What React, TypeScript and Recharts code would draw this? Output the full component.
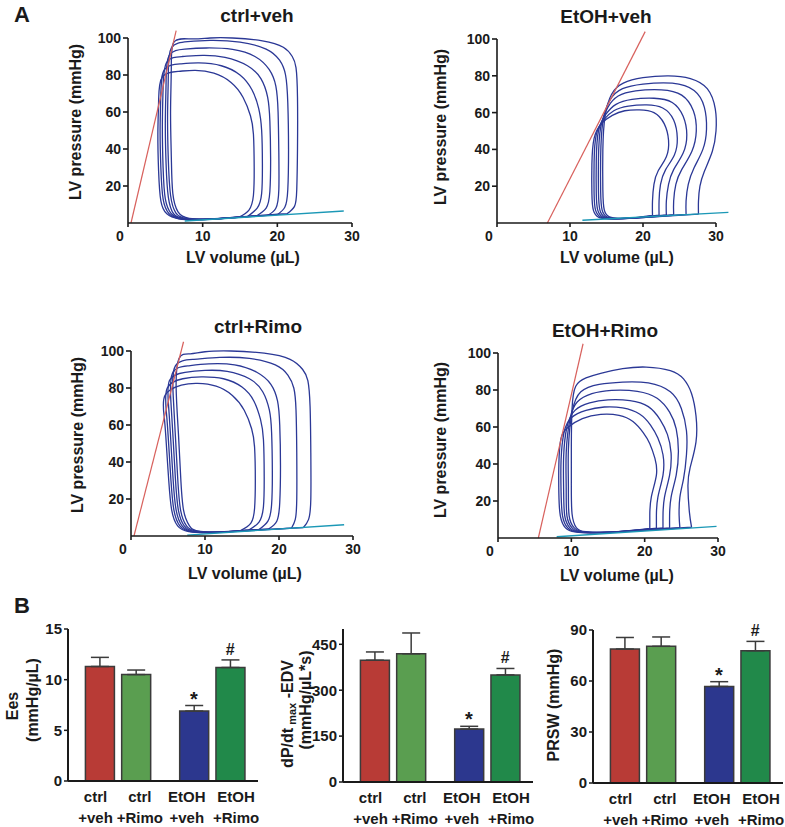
import React from "react";
import {
  LineChart,
  Line,
  XAxis,
  YAxis,
  ReferenceLine,
  ReferenceDot,
  BarChart,
  Bar,
  Cell,
  ErrorBar,
} from "recharts";

type Pt = [number, number];

const FONT = '"Liberation Sans", Arial, Helvetica, sans-serif';
const INK = "#1a1a1a";
const LOOP_COLOR = "#2b3896";
const ESPVR_COLOR = "#d8615d";
const EDPVR_COLOR = "#1b98b6";

// ---------- A: pressure-volume loops (volume µL, pressure mmHg) ----------
const volumeTicks = [0, 10, 20, 30];
const pressureTicks = [20, 40, 60, 80, 100];

const ctrlVehLoops: Pt[][] = [
  [[14.9,3.2],[16.2,7],[16.8,15],[16.9,30],[16.8,48],[16.4,58],[15.4,68],[13.8,76],[11.5,81],[9,82.5],[6.8,82],[4.6,79],[4.1,66],[4.0,48],[4.1,28],[4.4,12],[5.2,5],[6.8,2.3],[9.5,1.8],[12.5,2.4],[14.9,3.2]],
  [[16.0,3.5],[17.3,8],[17.9,16],[18.0,32],[17.9,50],[17.5,62],[16.6,72],[15,80],[12.5,85],[9.5,86.5],[7,86],[4.9,83],[4.4,70],[4.3,50],[4.4,30],[4.7,13],[5.5,5],[7,2.3],[10,1.9],[13.5,2.7],[16.0,3.5]],
  [[17.2,3.8],[18.5,8],[19.0,17],[19.1,35],[19.0,55],[18.7,68],[17.8,78],[16,85],[13,89.5],[10,90.6],[7.3,90],[5.2,87],[4.7,73],[4.6,52],[4.7,30],[5.0,13],[5.8,5],[7.3,2.3],[10.5,2],[14,3],[17.2,3.8]],
  [[18.7,4.1],[19.8,8],[20.2,18],[20.2,38],[20.1,60],[19.8,74],[18.9,83],[17,90],[14,93.8],[10.5,94.6],[7.6,94],[5.5,90.5],[5.1,76],[5.0,55],[5.1,32],[5.4,14],[6.1,5],[7.6,2.3],[11,2.1],[15,3.2],[18.7,4.1]],
  [[20.0,4.5],[21.0,8.5],[21.4,18],[21.5,40],[21.4,65],[21.1,80],[20.3,88],[18.5,94],[15,97.8],[11,98.7],[8,98],[5.8,94.5],[5.4,80],[5.3,58],[5.4,34],[5.7,15],[6.4,5.5],[7.9,2.4],[11.5,2.2],[16,3.5],[20.0,4.5]],
  [[21.3,5],[22.3,9],[22.6,18],[22.7,40],[22.7,68],[22.5,84],[22,90],[20.8,95],[18,98.5],[14,100],[11,100],[8.5,99.5],[6.2,98],[5.8,84],[5.7,60],[5.8,36],[6.0,16],[6.7,6],[8.2,2.5],[12,2.3],[17,3.8],[21.3,5]],
];
const ctrlVehEspvr: Pt[] = [[0.4, 0], [6.45, 104]];
const ctrlVehEdpvr: Pt[] = [[7.6, 1.1], [28.9, 6.5]];

const etohVehLoops: Pt[][] = [
  [[21.3,4.2],[21.3,12],[21.5,21],[22.1,28.5],[23.2,36],[23.5,45],[22.9,54],[21.5,60],[19.5,61.5],[17.5,61],[15.8,58.5],[14.3,54],[13.3,46],[13.0,32],[13.0,16],[13.2,7],[13.9,3.2],[15.3,2.3],[18,2.6],[21.3,4.2]],
  [[22.2,4.3],[22.2,12],[22.4,21],[23.1,29],[24.3,37],[24.7,46],[24.2,56],[22.7,62.5],[20.5,64.2],[18,63.5],[16,61],[14.6,56],[13.6,48],[13.3,33],[13.3,16],[13.5,7],[14.2,3.2],[15.6,2.3],[18.5,2.7],[22.2,4.3]],
  [[23.2,4.4],[23.2,12],[23.5,21],[24.2,29],[25.5,38],[26.0,48],[25.5,58],[24,65.5],[21.5,67.8],[18.5,67.2],[16.3,64.5],[14.9,59],[13.9,50],[13.6,34],[13.6,16],[13.8,7],[14.5,3.2],[16,2.3],[19,2.8],[23.2,4.4]],
  [[24.2,4.5],[24.2,12],[24.5,21],[25.3,29],[26.7,39],[27.3,50],[26.9,61],[25.3,69.5],[22.5,72.4],[19,71.8],[16.6,69],[15.2,63],[14.2,52],[13.9,35],[13.9,17],[14.1,7],[14.8,3.2],[16.3,2.4],[19.5,2.9],[24.2,4.5]],
  [[25.9,4.7],[25.9,12],[26.2,21],[27.0,30],[28.2,40],[28.7,51],[28.4,63],[27,72],[24,76],[20,75.5],[17.2,73],[15.5,67],[14.5,55],[14.2,36],[14.2,17],[14.4,7],[15.1,3.2],[16.6,2.4],[20,3],[25.9,4.7]],
  [[27.6,4.8],[27.6,12],[27.8,20],[28.4,28],[29.5,39],[30.0,50],[29.9,62],[28.8,73],[26.5,78.5],[23.5,80],[20,79],[17.3,76],[15.7,70],[14.8,58],[14.5,40],[14.5,18],[14.7,7],[15.4,3.3],[17,2.5],[21,3.2],[27.6,4.8]],
];
const etohVehEspvr: Pt[] = [[6.9, 0], [20.3, 104]];
const etohVehEdpvr: Pt[] = [[11.7, 1.5], [31.7, 5.8]];

const ctrlRimoLoops: Pt[][] = [
  [[14.8,2.9],[16.2,7],[16.7,15],[16.8,30],[16.7,48],[16.3,58],[15.3,68],[13.7,76],[11.5,81],[9,82.5],[6.8,81.5],[4.6,76],[4.5,64],[4.8,48],[5.1,30],[5.5,14],[6.3,5.5],[7.8,2.4],[10.5,1.8],[12.8,2.2],[14.8,2.9]],
  [[15.9,3.2],[17.3,7.5],[17.9,16],[18.0,32],[17.9,52],[17.5,63],[16.6,73],[15,80.5],[12.5,85],[9.5,86],[7,85],[4.9,80],[4.8,66],[5.1,49],[5.4,30],[5.8,14],[6.6,5.5],[8.1,2.4],[11,1.9],[13.5,2.5],[15.9,3.2]],
  [[17.3,3.5],[18.5,8],[19.0,17],[19.1,35],[19.0,56],[18.7,68],[17.8,78],[16,85],[13,89],[10,89.5],[7.3,88.5],[5.2,84],[5.1,69],[5.4,50],[5.7,30],[6.1,14],[6.9,5.5],[8.4,2.4],[11.5,2],[14.5,2.8],[17.3,3.5]],
  [[18.6,3.8],[19.7,8],[20.1,18],[20.2,38],[20.1,60],[19.8,73],[18.9,82],[17,88.5],[14,92.5],[10.5,93],[7.7,92],[5.6,88],[5.4,72],[5.7,52],[6.0,31],[6.4,14],[7.2,5.5],[8.7,2.4],[12,2.1],[15.5,3],[18.6,3.8]],
  [[21.7,4.3],[22.2,9],[22.4,20],[22.4,45],[22.3,68],[22.0,80],[21.2,87],[19.5,92.5],[16,96],[12,96.5],[8.5,95.5],[6.0,92],[5.7,76],[6.0,54],[6.3,32],[6.7,14],[7.5,5.5],[9,2.5],[13,2.3],[17.5,3.4],[21.7,4.3]],
  [[23.3,4.6],[24.0,9],[24.3,20],[24.3,45],[24.2,70],[23.9,84],[23.2,90],[21.5,95.5],[18,98.8],[13.5,100],[10,99.6],[8,98.5],[6.5,96],[6.1,80],[6.4,56],[6.7,33],[7.1,14],[7.9,5.5],[9.4,2.5],[14,2.5],[19,3.6],[23.3,4.6]],
];
const ctrlRimoEspvr: Pt[] = [[0.4, 0], [7.1, 105]];
const ctrlRimoEdpvr: Pt[] = [[7.6, 0.5], [28.8, 6.1]];

const etohRimoLoops: Pt[][] = [
  [[20.7,5.2],[20.7,12],[20.9,22],[21.6,34],[21.4,43],[20.7,51],[19.8,57],[18.4,63],[16.5,66.3],[14,66.8],[11.5,64.5],[9.6,60],[8.6,54],[8.3,40],[8.3,24],[8.5,12],[9.2,5.5],[10.5,3.3],[13,2.8],[16.5,3.4],[20.7,5.2]],
  [[21.6,5.3],[21.6,12],[21.8,22],[22.5,34],[22.5,45],[21.8,54],[20.8,61],[19.3,67],[17,70.3],[14.5,70.8],[12,69],[10,65],[9.0,57],[8.6,42],[8.6,25],[8.8,12],[9.5,5.5],[10.8,3.3],[13.5,2.8],[17,3.5],[21.6,5.3]],
  [[22.5,5.4],[22.5,12],[22.7,22],[23.4,34],[23.6,46],[23.1,56],[22.1,64],[20.5,71],[18,74.3],[15,74.7],[12.5,73],[10.5,69],[9.4,60],[8.95,44],[8.95,26],[9.1,12],[9.8,5.5],[11.1,3.3],[14,2.9],[17.5,3.7],[22.5,5.4]],
  [[23.4,5.5],[23.4,12],[23.6,22],[24.3,34],[24.6,47],[24.3,59],[23.4,68],[21.7,75.5],[19,79.3],[15.5,79.8],[12.8,78],[10.8,73.5],[9.8,64],[9.3,46],[9.3,27],[9.4,12],[10.1,5.5],[11.4,3.3],[14.5,3],[18,3.8],[23.4,5.5]],
  [[24.8,5.6],[24.7,12],[24.8,22],[25.3,32],[25.7,45],[25.7,58],[25.0,70],[23.5,79],[20.5,83.8],[17,84.3],[13.8,83],[11.3,79],[10.1,68],[9.6,48],[9.6,28],[9.7,12],[10.4,5.5],[11.7,3.3],[15,3.1],[19,4],[24.8,5.6]],
  [[26.4,5.8],[26.1,14],[25.9,28],[26.2,38],[27.0,52],[27.0,66],[26.4,78],[25.3,86],[23.5,90.5],[20.2,92.4],[17,91.5],[14,89],[12,86.5],[10.6,82],[10.1,70],[10.0,50],[10.0,30],[10.1,13],[10.7,5.5],[12,3.4],[15.5,3.2],[20,4.2],[26.4,5.8]],
];
const etohRimoEspvr: Pt[] = [[5.5, 0], [11.6, 105]];
const etohRimoEdpvr: Pt[] = [[8.0, 0.7], [29.8, 6.3]];

// ---------- B: bar charts ----------
const groupTop = ["ctrl", "ctrl", "EtOH", "EtOH"];
const groupBottom = ["+veh", "+Rimo", "+veh", "+Rimo"];
const sigMarks = ["", "", "*", "#"];

const eesMean = [11.3, 10.5, 6.9, 11.2];
const eesSem = [0.9, 0.45, 0.55, 0.75];
const dpdtMean = [398, 419, 173, 350];
const dpdtSem = [27, 68, 9, 21];
const prswMean = [78.8, 80.4, 56.8, 77.8];
const prswSem = [6.8, 5.5, 2.8, 5.5];

// layout: bar slots on a numeric axis (gap between the two groups), label nudges in px
const slotX = [1, 2, 3.6, 4.6];
const labelNudge = [-4, 4, -7, 6];
const barColors = ["#b83b36", "#5a9e50", "#2c378e", "#21894a"];
const markStyle: Record<string, { size: number; offset: number }> = {
  "*": { size: 20, offset: 0 },
  "#": { size: 16, offset: 5 },
};

interface Box {
  left: number;
  top: number;
  width: number;
  height: number;
}

const axisStroke = { stroke: INK, strokeWidth: 1.6 };

const VolumeTick = (props: any) => {
  const { x, y, payload } = props;
  return (
    <text
      x={payload.value === 0 ? x - 8 : x}
      y={y}
      dy={12}
      textAnchor="middle"
      fill={INK}
      fontSize={14}
      fontWeight="bold"
      fontFamily={FONT}
    >
      {payload.value}
    </text>
  );
};

const PVPanel = ({ loops, espvr, edpvr, box }: { loops: Pt[][]; espvr: Pt[]; edpvr: Pt[]; box: Box }) => {
  const ml = 50, mt = 20, mr = 30, mb = 40, yW = 40, xH = 30;
  const seg = (line: Pt[]) => line.map(([v, p]) => ({ x: v, y: p }));
  return (
    <div style={{ position: "absolute", left: box.left - ml, top: box.top - mt }}>
      <LineChart
        width={box.width + ml + mr}
        height={box.height + mt + mb}
        margin={{ top: mt, right: mr, bottom: mb - xH, left: ml - yW }}
      >
        <XAxis
          type="number"
          dataKey="v"
          domain={[0, 30]}
          ticks={volumeTicks}
          height={xH}
          tickSize={4}
          tickMargin={2}
          tick={<VolumeTick />}
          axisLine={axisStroke}
          tickLine={axisStroke}
        />
        <YAxis
          type="number"
          domain={[0, 100]}
          ticks={pressureTicks}
          width={yW}
          tickSize={5}
          tickMargin={2}
          tick={{ fill: INK, fontSize: 14, fontWeight: "bold", fontFamily: FONT }}
          axisLine={axisStroke}
          tickLine={axisStroke}
        />
        {loops.map((loop, i) => (
          <Line
            key={i}
            data={loop.map(([v, p]) => ({ v, p }))}
            dataKey="p"
            type="natural"
            stroke={LOOP_COLOR}
            strokeWidth={1.3}
            dot={false}
            activeDot={false}
            isAnimationActive={false}
          />
        ))}
        <ReferenceLine segment={seg(espvr)} ifOverflow="visible" stroke={ESPVR_COLOR} strokeWidth={1.2} />
        <ReferenceLine segment={seg(edpvr)} ifOverflow="visible" stroke={EDPVR_COLOR} strokeWidth={1.4} />
      </LineChart>
    </div>
  );
};

const GroupTick = (props: any) => {
  const { x, y, payload } = props;
  const i = slotX.indexOf(payload.value);
  const tx = x + labelNudge[i];
  return (
    <text x={tx} y={y} textAnchor="middle" fill={INK} fontSize={15} fontWeight="bold" fontFamily={FONT}>
      <tspan x={tx} dy={13}>{groupTop[i]}</tspan>
      <tspan x={tx} dy={21}>{groupBottom[i]}</tspan>
    </text>
  );
};

const BarPanel = ({ mean, sem, yDomain, yTicks, box }: { mean: number[]; sem: number[]; yDomain: number[]; yTicks: number[]; box: Box }) => {
  const ml = 80, mt = 25, mr = 10, mb = 50, yW = 45, xH = 40;
  const rows = slotX.map((s, i) => ({ slot: s, mean: mean[i], err: [0, sem[i]] }));
  return (
    <div style={{ position: "absolute", left: box.left - ml, top: box.top - mt }}>
      <BarChart
        width={box.width + ml + mr}
        height={box.height + mt + mb}
        data={rows}
        margin={{ top: mt, right: mr, bottom: mb - xH, left: ml - yW }}
      >
        <XAxis
          type="number"
          dataKey="slot"
          domain={[0.13, 5.37]}
          ticks={slotX}
          height={xH}
          tickLine={false}
          tick={<GroupTick />}
          axisLine={{ stroke: INK, strokeWidth: 2 }}
        />
        <YAxis
          type="number"
          domain={yDomain}
          ticks={yTicks}
          width={yW}
          tickSize={4}
          tickMargin={2}
          tick={{ fill: INK, fontSize: 15, fontWeight: "bold", fontFamily: FONT }}
          axisLine={{ stroke: INK, strokeWidth: 2 }}
          tickLine={{ stroke: INK, strokeWidth: 1.5 }}
        />
        <Bar dataKey="mean" barSize={29} stroke="#3b3b3b" strokeWidth={1.5} isAnimationActive={false}>
          {rows.map((r, i) => (
            <Cell key={i} fill={barColors[i]} />
          ))}
          <ErrorBar dataKey="err" direction="y" width={9} stroke="#3b3b3b" strokeWidth={1.5} />
        </Bar>
        {sigMarks.map((m, i) =>
          m ? (
            <ReferenceDot
              key={i}
              x={slotX[i]}
              y={mean[i] + sem[i]}
              r={0}
              fill="none"
              stroke="none"
              ifOverflow="visible"
              label={{
                value: m,
                position: "top",
                offset: markStyle[m].offset,
                fill: INK,
                fontSize: markStyle[m].size,
                fontWeight: "bold",
                fontFamily: FONT,
              }}
            />
          ) : null
        )}
      </BarChart>
    </div>
  );
};

const VText = ({ x, y, size = 16, children }: { x: number; y: number; size?: number; children: React.ReactNode }) => (
  <text
    x={x}
    y={y}
    dy="0.35em"
    transform={`rotate(-90 ${x} ${y})`}
    textAnchor="middle"
    fontSize={size}
    fontWeight="bold"
    fill={INK}
  >
    {children}
  </text>
);

const HText = ({ x, y, size = 16, anchor = "middle", children }: { x: number; y: number; size?: number; anchor?: string; children: React.ReactNode }) => (
  <text x={x} y={y} textAnchor={anchor as any} fontSize={size} fontWeight="bold" fill={INK}>
    {children}
  </text>
);

export default function App() {
  return (
    <div
      style={{
        position: "absolute",
        left: 0,
        top: 0,
        width: 785,
        height: 827,
        overflow: "hidden",
        background: "#fff",
        fontFamily: FONT,
      }}
    >
      <PVPanel loops={ctrlVehLoops} espvr={ctrlVehEspvr} edpvr={ctrlVehEdpvr} box={{ left: 128, top: 38, width: 224, height: 185 }} />
      <PVPanel loops={etohVehLoops} espvr={etohVehEspvr} edpvr={etohVehEdpvr} box={{ left: 497, top: 39, width: 219, height: 184 }} />
      <PVPanel loops={ctrlRimoLoops} espvr={ctrlRimoEspvr} edpvr={ctrlRimoEdpvr} box={{ left: 131, top: 351, width: 222, height: 185 }} />
      <PVPanel loops={etohRimoLoops} espvr={etohRimoEspvr} edpvr={etohRimoEdpvr} box={{ left: 498, top: 353, width: 220, height: 185 }} />

      <BarPanel mean={eesMean} sem={eesSem} yDomain={[0, 15]} yTicks={[0, 5, 10, 15]} box={{ left: 68, top: 629, width: 190, height: 152 }} />
      <BarPanel mean={dpdtMean} sem={dpdtSem} yDomain={[0, 500]} yTicks={[0, 150, 300, 450]} box={{ left: 343, top: 629, width: 190, height: 153 }} />
      <BarPanel mean={prswMean} sem={prswSem} yDomain={[0, 90]} yTicks={[0, 30, 60, 90]} box={{ left: 593, top: 630, width: 190, height: 153 }} />

      <svg
        width={785}
        height={827}
        style={{ position: "absolute", left: 0, top: 0, pointerEvents: "none", fontFamily: FONT }}
      >
        <HText x={14} y={22} size={22} anchor="start">A</HText>
        <HText x={14} y={613} size={22} anchor="start">B</HText>

        <HText x={257} y={22} size={19}>ctrl+veh</HText>
        <HText x={606} y={23} size={19}>EtOH+veh</HText>
        <HText x={258} y={333} size={19}>ctrl+Rimo</HText>
        <HText x={605} y={337} size={19}>EtOH+Rimo</HText>

        <VText x={75} y={122}>LV pressure (mmHg)</VText>
        <VText x={440} y={127}>LV pressure (mmHg)</VText>
        <VText x={77} y={435}>LV pressure (mmHg)</VText>
        <VText x={440} y={440}>LV pressure (mmHg)</VText>

        <HText x={243} y={263}>LV volume (µL)</HText>
        <HText x={617} y={263}>LV volume (µL)</HText>
        <HText x={245} y={579}>LV volume (µL)</HText>
        <HText x={617} y={581}>LV volume (µL)</HText>

        <VText x={12} y={706}>Ees</VText>
        <VText x={32} y={700}>(mmHg/µL)</VText>
        <text
          x={287}
          y={714}
          dy="0.35em"
          transform="rotate(-90 287 714)"
          textAnchor="middle"
          fontSize={16}
          fontWeight="bold"
          fill={INK}
        >
          dP/dt
          <tspan fontSize={11} dy={3}> max</tspan>
          <tspan fontSize={16} dy={-3}> -EDV</tspan>
        </text>
        <VText x={305} y={700}>(mmHg/µL*s)</VText>
        <VText x={553} y={705}>PRSW (mmHg)</VText>
      </svg>
    </div>
  );
}
